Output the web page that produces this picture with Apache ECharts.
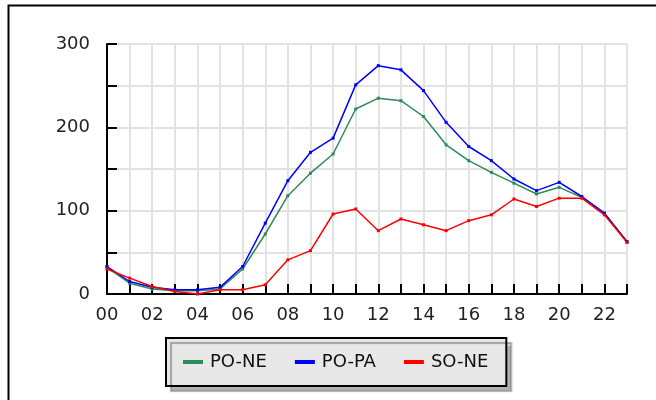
<!DOCTYPE html>
<html>
<head>
	<meta charset="utf-8">
	<script src="https://cdn.jsdelivr.net/npm/echarts@6/dist/echarts.min.js"></script>
	<style type="text/css">
		body { margin: 0; background: #ffffff; }
		#chartContainer { width: 656px; height: 400px; }
	</style>
</head>
<body>
	<div id="chartContainer"></div>
	<script type="text/javascript">
		var hours = ['00','01','02','03','04','05','06','07','08','09','10','11',
			'12','13','14','15','16','17','18','19','20','21','22','23'];
		var poNe = [32,13,6,4,4,6,30,72,118,145,168,222,235,232,213,179,160,146,133,120,128,116,97,62];
		var poPa = [33,15,8,5,5,8,33,85,136,170,187,251,274,269,244,206,177,160,138,124,134,117,97,63];
		var soNe = [30,19,9,3,0,5,5,11,41,52,96,102,76,90,83,76,88,95,114,105,115,115,95,62];
		var yLabels = [0, 100, 200, 300];

		var font = 'DejaVu Sans';

		function lineSeries(name, color, data) {
			return {
				name: name,
				type: 'line',
				data: data,
				symbol: 'rect',
				symbolSize: 3,
				showSymbol: true,
				lineStyle: { color: color, width: 1.5 },
				itemStyle: { color: color },
				animation: false
			};
		}

		var myChart = echarts.init(document.getElementById('chartContainer'));
		var option = {
			backgroundColor: '#ffffff',
			animation: false,
			graphic: [{
				type: 'rect',
				left: 6, top: 3,
				shape: { width: 700, height: 450 },
				style: { fill: 'none', stroke: '#000', lineWidth: 2 },
				z: 100
			}],
			grid: { left: 107, right: 29, top: 44, bottom: 106 },
			xAxis: {
				type: 'category',
				data: hours,
				boundaryGap: false,
				axisLine: { lineStyle: { color: '#000', width: 2 } },
				axisTick: { inside: true, length: 10, interval: 0, lineStyle: { color: '#000', width: 2 } },
				axisLabel: { interval: 1, margin: 12, color: '#222', fontFamily: font, fontSize: 18 },
				splitLine: { show: true, interval: 0, lineStyle: { color: '#e2e2e2', width: 2 } }
			},
			yAxis: {
				type: 'value',
				min: 0, max: 300, interval: 50,
				axisLine: { show: true, lineStyle: { color: '#000', width: 2 } },
				axisTick: { show: true, inside: true, length: 10, lineStyle: { color: '#000', width: 2 } },
				axisLabel: {
					margin: 17, color: '#222', fontFamily: font, fontSize: 18,
					formatter: function (v) { return yLabels.indexOf(v) >= 0 ? String(v) : ''; }
				},
				splitLine: { show: true, lineStyle: { color: '#e2e2e2', width: 2 } }
			},
			legend: {
				left: 166, top: 338,
				orient: 'horizontal',
				icon: 'rect',
				itemWidth: 20, itemHeight: 4,
				itemGap: 28,
				padding: [15, 18, 15, 17],
				backgroundColor: '#e8e8e8',
				borderColor: '#000',
				borderWidth: 2,
				shadowColor: 'rgba(0,0,0,0.3)',
				shadowBlur: 1,
				shadowOffsetX: 5,
				shadowOffsetY: 5,
				textStyle: { color: '#111', fontFamily: font, fontSize: 18, padding: [0, 0, 0, 2] },
				data: ['PO-NE', 'PO-PA', 'SO-NE']
			},
			series: [
				lineSeries('PO-NE', '#2e8b57', poNe),
				lineSeries('PO-PA', '#0000ff', poPa),
				lineSeries('SO-NE', '#ff0000', soNe)
			]
		};
		myChart.setOption(option);
	</script>
</body>
</html>
